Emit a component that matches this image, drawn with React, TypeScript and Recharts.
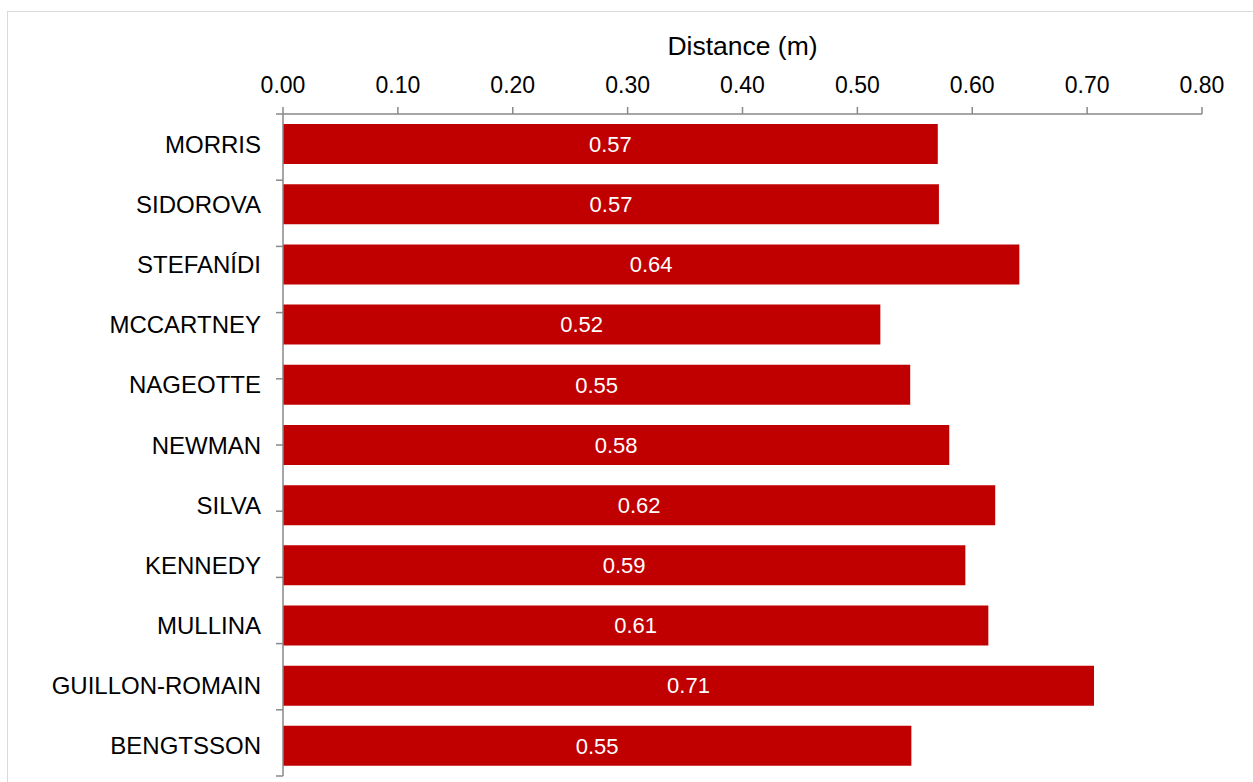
import { BarChart, Bar, XAxis, YAxis, LabelList } from 'recharts';

const athletes = [
  'MORRIS',
  'SIDOROVA',
  'STEFANÍDI',
  'MCCARTNEY',
  'NAGEOTTE',
  'NEWMAN',
  'SILVA',
  'KENNEDY',
  'MULLINA',
  'GUILLON-ROMAIN',
  'BENGTSSON',
];

const distances = [0.57, 0.571, 0.641, 0.52, 0.546, 0.58, 0.62, 0.594, 0.614, 0.706, 0.547];

const distanceTicks = [0, 0.1, 0.2, 0.3, 0.4, 0.5, 0.6, 0.7, 0.8];

// boundaries between categories, used for the tick marks on the vertical axis
const bandEdges = athletes.map((_, i) => i).concat(athletes.length);

const data = athletes.map((name, i) => ({ name, distance: distances[i] }));

const FONT = 'Arial, "Liberation Sans", sans-serif';
const AXIS_GREY = '#898989';

export default function App() {
  return (
    <div
      style={{
        position: 'absolute',
        left: 0,
        top: 0,
        width: 1253,
        height: 782,
        overflow: 'hidden',
        background: '#fff',
        fontFamily: FONT,
      }}
    >
      <div
        style={{
          position: 'absolute',
          left: 7,
          top: 11,
          width: 1400,
          height: 900,
          border: '1px solid #d9d9d9',
        }}
      />
      <div style={{ position: 'absolute', left: 0, top: 0 }}>
        <BarChart
          width={1253}
          height={782}
          data={data}
          layout="vertical"
          margin={{ top: 0, right: 51, bottom: 6, left: 0 }}
          barCategoryGap="16.7%"
        >
          <XAxis
            type="number"
            orientation="top"
            domain={[0, 0.8]}
            ticks={distanceTicks}
            interval={0}
            height={114}
            tickFormatter={(v: number) => v.toFixed(2)}
            tick={{ fill: '#000', fontSize: 23, fontFamily: FONT }}
            tickSize={7}
            tickMargin={14}
            stroke={AXIS_GREY}
            strokeWidth={1.5}
            label={{
              value: 'Distance (m)',
              position: 'insideTop',
              offset: 36,
              fill: '#000',
              fontSize: 26.5,
              fontFamily: FONT,
            }}
          />
          {/* tick marks only, sitting on the category boundaries */}
          <YAxis
            yAxisId="edges"
            type="number"
            domain={[0, athletes.length]}
            allowDataOverflow
            ticks={bandEdges}
            interval={0}
            width={1}
            tickFormatter={() => ''}
            tickSize={7}
            stroke={AXIS_GREY}
            strokeWidth={1.5}
          />
          <YAxis
            yAxisId="names"
            type="category"
            dataKey="name"
            width={282}
            axisLine={false}
            tickLine={false}
            tickSize={0}
            tickMargin={21}
            interval={0}
            tick={{ fill: '#000', fontSize: 24, fontFamily: FONT }}
          />
          <Bar yAxisId="names" dataKey="distance" fill="#C00000" isAnimationActive={false}>
            <LabelList
              dataKey="distance"
              position="center"
              fill="#fff"
              fontSize={22}
              fontFamily={FONT}
              formatter={(v: number) => Number(v).toFixed(2)}
            />
          </Bar>
        </BarChart>
      </div>
    </div>
  );
}
